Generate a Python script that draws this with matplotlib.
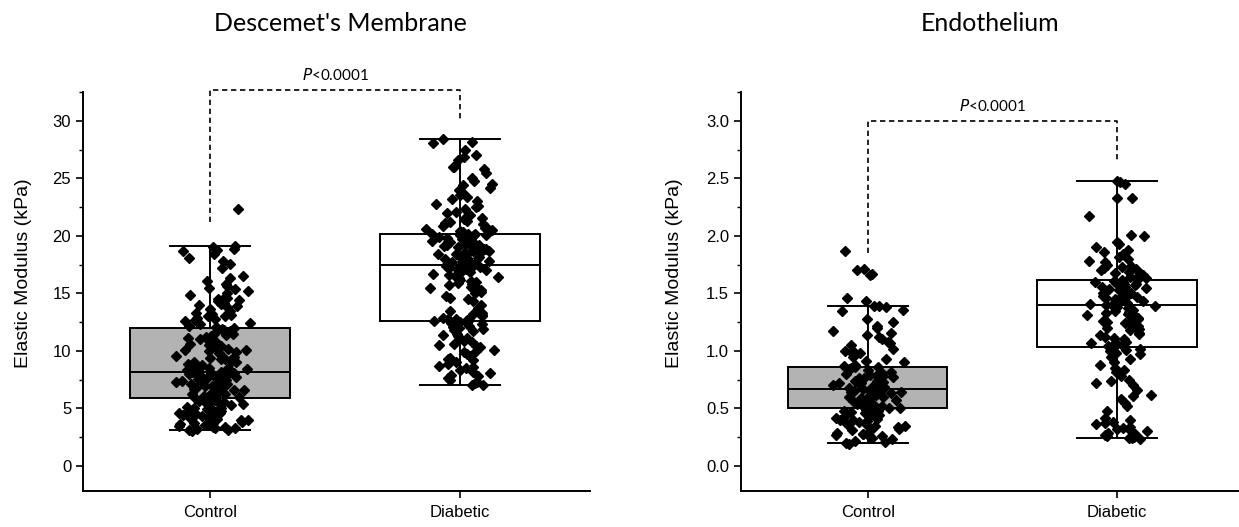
import numpy as np
import matplotlib
matplotlib.use("Agg")
import matplotlib.pyplot as plt
from matplotlib.ticker import MultipleLocator, FormatStrFormatter

# ---------------- data ----------------
categories = ["Control", "Diabetic"]
titles = ["Descemet's Membrane", "Endothelium"]
p_text = "<0.0001"

# box statistics: [whislo, q1, median, q3, whishi]
dm_box = {"Control": [3.1, 5.9, 8.2, 12.0, 19.1],
          "Diabetic": [7.0, 12.6, 17.5, 20.2, 28.4]}
en_box = {"Control": [0.20, 0.50, 0.67, 0.86, 1.39],
          "Diabetic": [0.24, 1.03, 1.40, 1.62, 2.48]}

dm_control = [
    3.05, 3.1, 3.14, 3.2, 3.27, 3.33, 3.38, 3.42, 3.5, 3.53, 3.58, 3.66, 3.7, 3.77, 3.84, 3.9,
    3.96, 4.03, 4.1, 4.13, 4.22, 4.3, 4.36, 4.4, 4.48, 4.56, 4.6, 4.67, 4.76, 4.8, 4.89, 4.95,
    5.02, 5.07, 5.15, 5.21, 5.28, 5.36, 5.4, 5.47, 5.53, 5.6, 5.66, 5.73, 5.8, 5.86, 5.9,
    5.96, 6.02, 6.05, 6.12, 6.15, 6.22, 6.26, 6.31, 6.38, 6.43, 6.48, 6.55, 6.6, 6.63, 6.7, 6.76,
    6.8, 6.84, 6.91, 6.95, 7.0, 7.06, 7.1, 7.14, 7.2, 7.27, 7.3, 7.36, 7.41, 7.45, 7.52, 7.55,
    7.6, 7.66, 7.71, 7.75, 7.8, 7.86, 7.9, 7.94, 8.0, 8.04, 8.08, 8.12, 8.15, 8.18, 8.2,
    8.26, 8.3, 8.36, 8.42, 8.5, 8.54, 8.62, 8.7, 8.76, 8.82, 8.9, 9.0, 9.05, 9.12, 9.2, 9.26,
    9.3, 9.4, 9.5, 9.6, 9.72, 9.8, 9.9, 10.0, 10.05, 10.12, 10.2, 10.32, 10.4, 10.5, 10.62,
    10.8, 10.9, 11.0, 11.04, 11.12, 11.2, 11.3, 11.4, 11.5, 11.62, 11.7, 11.8, 11.88, 11.95, 12.0,
    12.1, 12.2, 12.3, 12.42, 12.5, 12.62, 12.7, 12.8, 12.9, 13.0, 13.02, 13.1, 13.2, 13.3,
    13.5, 13.62, 13.8, 13.9, 14.0, 14.1, 14.2, 14.3, 14.4, 14.5, 14.6, 14.7, 14.9, 15.0,
    15.2, 15.4, 15.5, 15.62, 15.8, 16.1, 16.3, 16.5, 17.2, 17.6, 17.8, 18.1, 18.4, 18.7,
    18.8, 18.9, 19.0, 19.1, 22.3]

dm_diabetic = [
    7.0, 7.05, 7.2, 7.3, 7.5, 7.62, 7.8, 7.9, 8.1, 8.2, 8.3, 8.5, 8.6, 8.72, 8.9, 9.0, 9.2,
    9.3, 9.4, 9.6, 9.72, 9.9, 10.0, 10.1, 10.3, 10.4, 10.5, 10.62, 10.8, 10.9, 11.0, 11.1,
    11.3, 11.4, 11.5, 11.7, 11.8, 11.9, 12.0, 12.1, 12.2, 12.3, 12.4, 12.45, 12.5, 12.55, 12.6,
    12.65, 12.7, 12.75, 12.8, 12.9, 13.0, 13.1, 13.2, 13.3, 13.5, 13.7, 14.0, 14.3, 14.5,
    14.6, 14.8, 15.0, 15.1, 15.3, 15.4, 15.5, 15.6, 15.7, 15.8, 15.9, 16.0, 16.1, 16.2, 16.3,
    16.4, 16.5, 16.6, 16.7, 16.8, 16.9, 17.0, 17.05, 17.1, 17.15, 17.2, 17.25, 17.3, 17.35,
    17.4, 17.45, 17.5, 17.5,
    17.55, 17.6, 17.65, 17.7, 17.75, 17.8, 17.85, 17.9, 18.0, 18.05, 18.1, 18.2, 18.25, 18.3,
    18.4, 18.45, 18.5, 18.6, 18.65, 18.7, 18.8, 18.85, 18.9, 19.0, 19.05, 19.1, 19.2, 19.25,
    19.3, 19.4, 19.45, 19.5, 19.6, 19.65, 19.7, 19.8, 19.85, 19.9, 19.95, 20.0, 20.05, 20.1,
    20.1, 20.15, 20.2, 20.2, 20.2,
    20.3, 20.4, 20.5, 20.6, 20.7, 20.8, 20.9, 21.0, 21.1, 21.2, 21.3, 21.5, 21.6, 21.8, 22.0,
    22.1, 22.3, 22.5, 22.6, 22.8, 23.0, 23.2, 23.4, 23.6, 23.8, 24.0, 24.2, 24.4, 24.5, 24.8,
    25.0, 25.5, 25.8, 26.0, 26.0, 26.6, 26.9, 27.0, 27.5, 28.1, 28.2, 28.4]

en_control = [
    0.19, 0.2, 0.21, 0.22, 0.23, 0.24, 0.25, 0.26, 0.27, 0.28, 0.28, 0.29, 0.3, 0.31, 0.32,
    0.33, 0.34, 0.35, 0.35, 0.36, 0.37, 0.38, 0.39, 0.4, 0.4, 0.41, 0.42, 0.43, 0.44, 0.45,
    0.45, 0.46, 0.47, 0.48, 0.48, 0.49, 0.5, 0.5,
    0.51, 0.52, 0.52, 0.53, 0.54, 0.54, 0.55, 0.56, 0.56, 0.57, 0.57, 0.58, 0.59, 0.59, 0.6,
    0.6, 0.61, 0.61, 0.62, 0.62, 0.63, 0.63, 0.64, 0.64, 0.65, 0.65, 0.66, 0.66, 0.67, 0.67,
    0.68, 0.68, 0.69, 0.7, 0.7, 0.71, 0.72, 0.72, 0.73, 0.74, 0.74, 0.75, 0.76, 0.76, 0.77,
    0.78, 0.78, 0.79, 0.8, 0.8, 0.81, 0.82, 0.83, 0.84, 0.85, 0.86, 0.86,
    0.87, 0.88, 0.9, 0.91, 0.93, 0.95, 0.97, 0.98, 1.0, 1.0, 1.02, 1.05, 1.07, 1.08, 1.1,
    1.12, 1.14, 1.16, 1.17, 1.2, 1.22, 1.25, 1.28, 1.35, 1.36, 1.38, 1.39, 1.39,
    1.43, 1.46, 1.66, 1.67, 1.7, 1.71, 1.87]

en_diabetic = [
    0.23, 0.24, 0.24, 0.25, 0.26, 0.27, 0.28, 0.29, 0.3, 0.31, 0.32, 0.33, 0.34, 0.36, 0.37,
    0.38, 0.4, 0.42, 0.48, 0.52, 0.55, 0.58, 0.61, 0.62, 0.66, 0.7, 0.72, 0.74, 0.75, 0.78,
    0.82, 0.83, 0.85, 0.88, 0.9, 0.93, 0.95, 0.97, 0.98, 1.0, 1.01, 1.02, 1.03,
    1.04, 1.05, 1.06, 1.07, 1.08, 1.1, 1.11, 1.12, 1.14, 1.15, 1.16, 1.18, 1.19, 1.2, 1.21,
    1.22, 1.23, 1.24, 1.25, 1.26, 1.27, 1.28, 1.29, 1.3, 1.31, 1.32, 1.33, 1.34, 1.35, 1.36,
    1.37, 1.38, 1.38, 1.39, 1.4, 1.4,
    1.41, 1.42, 1.42, 1.43, 1.44, 1.44, 1.45, 1.46, 1.46, 1.47, 1.48, 1.48, 1.49, 1.5, 1.5,
    1.51, 1.52, 1.52, 1.53, 1.54, 1.54, 1.55, 1.56, 1.56, 1.57, 1.58, 1.58, 1.59, 1.6, 1.6,
    1.61, 1.62, 1.62,
    1.63, 1.64, 1.65, 1.66, 1.67, 1.68, 1.69, 1.7, 1.71, 1.72, 1.73, 1.74, 1.75, 1.77, 1.78,
    1.8, 1.82, 1.84, 1.86, 1.88, 1.9, 1.93, 1.95, 2.0, 2.01, 2.17, 2.33, 2.33, 2.45, 2.47, 2.48]

# ---------------- style ----------------
plt.rcParams["font.family"] = ["Liberation Sans", "DejaVu Sans"]
TITLE_FONT = ["Lato", "DejaVu Sans"]
BOX_FILL = {"Control": "#b3b3b3", "Diabetic": "#ffffff"}

fig = plt.figure(figsize=(12.39, 5.27), dpi=100)
ax1 = fig.add_axes([0.067, 0.068, 0.409, 0.757])
ax2 = fig.add_axes([0.598, 0.068, 0.401, 0.757])


def jitter(n, width=0.16, seed=0.0):
    # deterministic hash-based scatter of the points across the column
    i = np.arange(n, dtype=float)
    h1 = np.modf(np.abs(np.sin(i * 12.9898 + seed) * 43758.5453))[0]
    h2 = np.modf(np.abs(np.sin(i * 78.233 + seed * 1.7) * 24634.6345))[0]
    return width * (h1 + h2 - 1.0) + 0.01


def panel(ax, boxes, groups, ylim, xlim, major, minor, fmt, bracket, leg_ends, title,
          title_x, label_x):
    stats = []
    for c in categories:
        lo, q1, med, q3, hi = boxes[c]
        stats.append(dict(whislo=lo, q1=q1, med=med, q3=q3, whishi=hi, fliers=[], label=c))
    pos = [1, 2]
    bp = ax.bxp(stats, positions=pos, widths=0.64, patch_artist=True, showfliers=False,
                boxprops=dict(linewidth=1.4, edgecolor="black"),
                medianprops=dict(color="black", linewidth=1.4),
                whiskerprops=dict(color="black", linewidth=1.4),
                capprops=dict(color="black", linewidth=1.4), capwidths=0.32)
    for patch, c in zip(bp["boxes"], categories):
        patch.set_facecolor(BOX_FILL[c])
    for k, (p, vals) in enumerate(zip(pos, groups)):
        v = np.asarray(vals)
        ax.plot(p + jitter(len(v), seed=1.3 * k + 0.4), v, linestyle="none", marker="D",
                markersize=4.8, color="black", zorder=5)
    # significance bracket
    ax.plot([1, 1, 2, 2], [leg_ends[0], bracket, bracket, leg_ends[1]], color="black",
            linestyle=(0, (3.2, 2.2)), linewidth=1.2, clip_on=False, zorder=6)
    ax.annotate("$\\it{P}$" + p_text, xy=(1.5, bracket), xytext=(0, 5),
                textcoords="offset points", ha="center", va="bottom", fontsize=11,
                family=TITLE_FONT, annotation_clip=False)
    ax.set_xlim(*xlim)
    ax.set_ylim(*ylim)
    ax.set_xticks(pos)
    ax.set_xticklabels(categories, fontsize=12)
    ax.yaxis.set_major_locator(MultipleLocator(major))
    ax.yaxis.set_minor_locator(MultipleLocator(minor))
    ax.yaxis.set_major_formatter(FormatStrFormatter(fmt))
    ax.tick_params(axis="y", which="major", length=5, width=1.2, labelsize=12)
    ax.tick_params(axis="y", which="minor", length=3, width=1.0)
    ax.tick_params(axis="x", which="major", length=5, width=1.2, pad=5)
    ax.set_ylabel("Elastic Modulus (kPa)", fontsize=14)
    ax.yaxis.set_label_coords(label_x, 0.546)
    for s in ["top", "right"]:
        ax.spines[s].set_visible(False)
    for s in ["left", "bottom"]:
        ax.spines[s].set_linewidth(1.4)
    fig.text(title_x, 0.956, title, family=TITLE_FONT, fontsize=18, ha="center",
             va="center")


panel(ax1, dm_box, [dm_control, dm_diabetic], (-2.2, 32.5), (0.49, 2.52), 5, 2.5, "%d",
      32.7, (21.2, 30.2), titles[0], 340 / 1239, -0.10)
panel(ax2, en_box, [en_control, en_diabetic], (-0.22, 3.25), (0.492, 2.484), 0.5, 0.25,
      "%.1f", 3.0, (1.85, 2.66), titles[1], 990 / 1239, -0.117)

fig.savefig("out.png", dpi=100)
